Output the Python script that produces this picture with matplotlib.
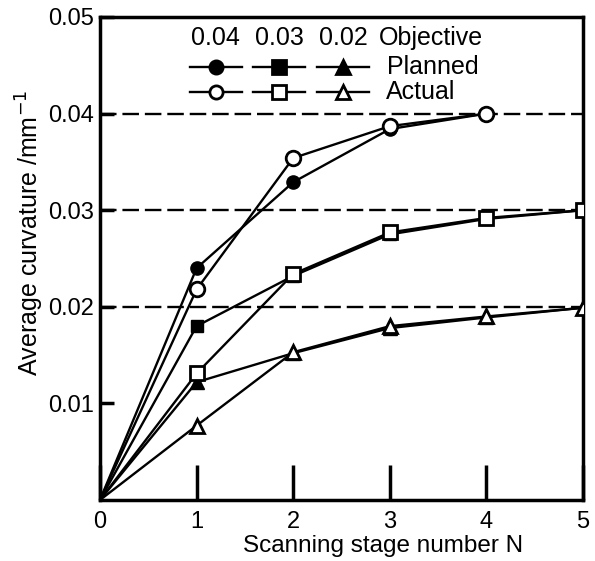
import numpy as np
import matplotlib.pyplot as plt
from matplotlib.lines import Line2D

plt.rcParams['font.family'] = ['Liberation Sans', 'DejaVu Sans']

# scanning stages
stages = [0, 1, 2, 3, 4, 5]
objectives = [0.04, 0.03, 0.02]

# objective 0.04 (only 4 stages)
planned_004 = [0, 0.0240, 0.0329, 0.0384, 0.0400]
actual_004 = [0, 0.0218, 0.0354, 0.0387, 0.0400]
# objective 0.03
planned_003 = [0, 0.0180, 0.0232, 0.0275, 0.0291, 0.0300]
actual_003 = [0, 0.0131, 0.0234, 0.0277, 0.0292, 0.0300]
# objective 0.02
planned_002 = [0, 0.0122, 0.0152, 0.0178, 0.0189, 0.0199]
actual_002 = [0, 0.0077, 0.0153, 0.0180, 0.0190, 0.0199]

fig = plt.figure(figsize=(5.95, 5.61), dpi=100)
ax = fig.add_axes([0.168, 0.1087, 0.812, 0.861])

for lvl in objectives:
    ax.axhline(lvl, color='black', lw=1.7, ls=(0, (7, 2.5)), zorder=1)

series = [
    (planned_004, actual_004, 'o', 9.5, 10.5),
    (planned_003, actual_003, 's', 9, 10),
    (planned_002, actual_002, '^', 9.5, 10.5),
]
for planned, actual, mk, ms_p, ms_a in series:
    n = len(planned)
    ax.plot(stages[:n], planned, color='black', lw=1.7, marker=mk, ms=ms_p,
            mfc='black', mec='black', markevery=list(range(1, n)), zorder=3)
    ax.plot(stages[:n], actual, color='black', lw=1.7, marker=mk, ms=ms_a,
            mfc='white', mec='black', mew=2, markevery=list(range(1, n)), zorder=4)

ax.set_xlim(0, 5)
ax.set_ylim(0, 0.05)
ax.set_xticks(stages)
ax.set_yticks([0.01, 0.02, 0.03, 0.04, 0.05])
ax.set_yticklabels(['0.01', '0.02', '0.03', '0.04', '0.05'])
ax.set_yticks([0.01], minor=True)
ax.tick_params(axis='x', direction='in', length=25, width=2.5, labelsize=17, pad=8)
ax.tick_params(axis='y', which='major', direction='in', length=10, width=2.5, labelsize=17, pad=4)
ax.tick_params(axis='y', which='minor', direction='in', length=27, width=2.5)
for s in ax.spines.values():
    s.set_linewidth(2.5)

ax.set_xlabel('Scanning stage number N', fontsize=17.5)
ax.set_ylabel('Average curvature /mm$^{-1}$', fontsize=18)
ax.xaxis.set_label_coords(0.586, -0.073)
ax.yaxis.set_label_coords(-0.112, 0.553)

# key table
cols = [0.240, 0.371, 0.503]
rows = [0.957, 0.896, 0.845]
for cx, lvl, (_, _, mk, _, _) in zip(cols, objectives, series):
    ax.text(cx, rows[0], f'{lvl:.2f}', transform=ax.transAxes, ha='center', va='center', fontsize=18)
    for ry, fc in [(rows[1], 'black'), (rows[2], 'white')]:
        ax.add_line(Line2D([cx - 0.054, cx + 0.054], [ry, ry], transform=ax.transAxes,
                           color='black', lw=1.7, zorder=5))
        ax.add_line(Line2D([cx], [ry], transform=ax.transAxes, marker=mk, ms=9.5,
                           mfc=fc, mec='black', mew=2, zorder=6))
ax.text(0.577, rows[0], 'Objective', transform=ax.transAxes, ha='left', va='center', fontsize=18)
ax.text(0.594, rows[1], 'Planned', transform=ax.transAxes, ha='left', va='center', fontsize=18)
ax.text(0.592, rows[2], 'Actual', transform=ax.transAxes, ha='left', va='center', fontsize=18)

fig.savefig('out.png', dpi=100)
